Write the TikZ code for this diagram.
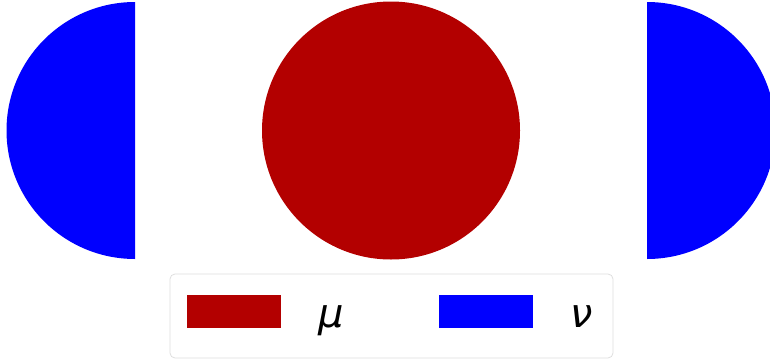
\documentclass[tikz,border=0pt]{standalone}
\usepackage{fontspec}
\newfontfamily\dvsans{DejaVu Sans}
\definecolor{mured}{RGB}{179,0,0}
\definecolor{nublue}{RGB}{0,0,255}
\definecolor{legborder}{RGB}{222,222,222}
\begin{document}
\begin{tikzpicture}[x=1pt,y=1pt,
  patch/.style={minimum width=94pt,minimum height=33pt,inner sep=0pt,draw=none},
  lab/.style={font=\dvsans\itshape\fontsize{40}{40}\selectfont,anchor=base,inner sep=0pt}]
\useasboundingbox (0,0) rectangle (770,360);
\begin{scope}
\clip (0,0) rectangle (770,360);
\fill[nublue] (135,358) arc[start angle=90,end angle=270,radius=128.5] -- cycle;
\fill[mured] (391,229.5) circle[radius=129];
\fill[nublue] (647,101) arc[start angle=-90,end angle=90,radius=128.5] -- cycle;
\end{scope}
\node[draw=legborder,line width=0.8pt,rounded corners=5pt,minimum width=443pt,minimum height=84pt,inner sep=0pt] (legend) at (391.5,44) {};
\node[patch,fill=mured] (pmu) at (234,48.5) {};
\node[patch,fill=nublue] (pnu) at (485.5,48.5) {};
\node[lab] (mu) at (331,33) {μ};
\node[lab] (nu) at (582,33) {ν};
\end{tikzpicture}
\end{document}
